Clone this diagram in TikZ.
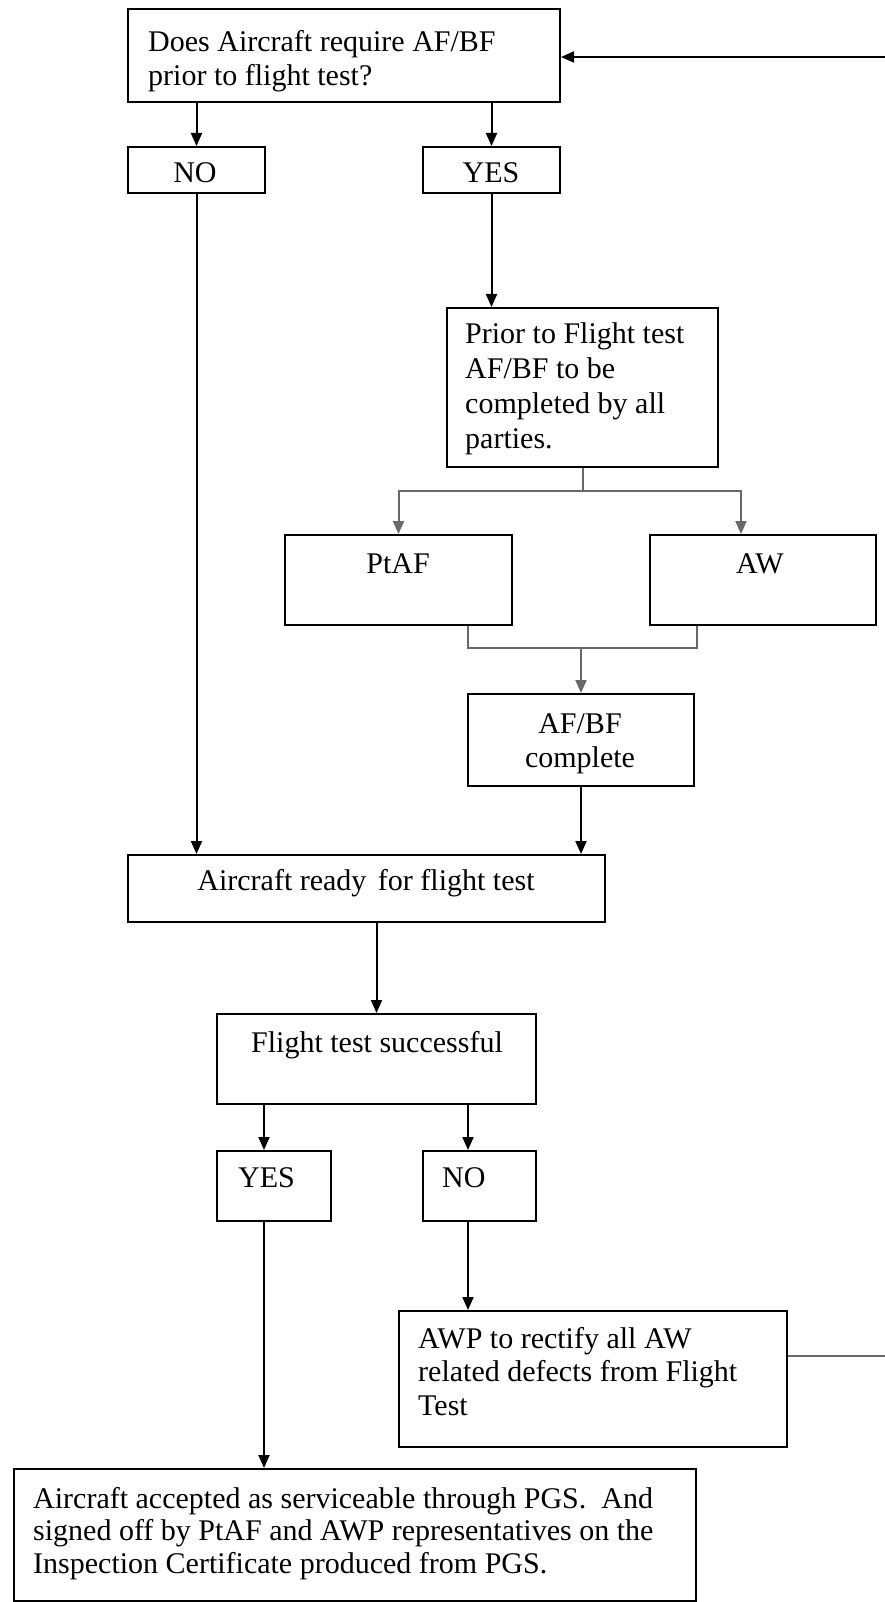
\documentclass[tikz,border=0pt]{standalone}
\usepackage{fontspec}
\setmainfont{Liberation Serif}
\usetikzlibrary{arrows.meta}
\newcommand\tp{\rule{0pt}{24pt}}
\begin{document}
\begin{tikzpicture}[x=1pt,y=-1pt,
  box/.style={draw, line width=2pt, inner sep=0, anchor=north west},
  txt/.style={inner sep=0, font=\fontsize{30}{34}\selectfont},
  arr/.style={line width=2pt, -{Triangle[length=13pt,width=11pt]}},
  gln/.style={line width=2pt, draw={rgb,255:red,105;green,105;blue,105}}]
\useasboundingbox (0,0) rectangle (885,1602);
\clip (0,0) rectangle (885,1602);
\fill[white] (0,0) rectangle (885,1602);

% boxes
\node[box, minimum width=432pt, minimum height=93pt]  (q)      at (127,8)    {};
\node[box, minimum width=137pt, minimum height=46pt]  (no1)    at (127,146)  {};
\node[box, minimum width=137pt, minimum height=46pt]  (yes1)   at (422,146)  {};
\node[box, minimum width=271pt, minimum height=159pt] (prior)  at (446,307)  {};
\node[box, minimum width=227pt, minimum height=90pt]  (ptaf)   at (284,534)  {};
\node[box, minimum width=226pt, minimum height=90pt]  (aw)     at (649,534)  {};
\node[box, minimum width=226pt, minimum height=92pt]  (afbf)   at (467,693)  {};
\node[box, minimum width=477pt, minimum height=67pt]  (ready)  at (127,854)  {};
\node[box, minimum width=319pt, minimum height=90pt]  (flight) at (216,1013) {};
\node[box, minimum width=114pt, minimum height=70pt]  (yes2)   at (216,1150) {};
\node[box, minimum width=113pt, minimum height=70pt]  (no2)    at (422,1150) {};
\node[box, minimum width=388pt, minimum height=136pt] (awp)    at (398,1310) {};
\node[box, minimum width=682pt, minimum height=132pt] (final)  at (13,1468)  {};

% texts
\node[txt, anchor=north west, align=left] (tq) at (148,27)
  {\tp Does Aircraft require AF/BF\\prior to flight test?};
\node[txt, anchor=base] (tno1)  at (195,183) {NO};
\node[txt, anchor=base] (tyes1) at (491,183) {YES};
\node[txt, anchor=north west, align=left, font=\fontsize{30}{35}\selectfont] (tprior) at (465,319)
  {\tp Prior to Flight test\\AF/BF to be\\completed by all\\parties.};
\node[txt, anchor=base] (tptaf) at (398,573) {PtAF};
\node[txt, anchor=base] (taw)   at (760,573) {AW};
\node[txt, anchor=north, align=center] (tafbf) at (580,709) {\tp AF/BF\\complete};
\node[txt, anchor=base] (tready)  at (366,890)  {Aircraft ready\hspace{4pt} for flight test};
\node[txt, anchor=base] (tflight) at (377,1052) {Flight test successful};
\node[txt, anchor=base west] (tyes2) at (238,1187) {YES};
\node[txt, anchor=base west] (tno2)  at (442,1187) {NO};
\node[txt, anchor=north west, align=left, font=\fontsize{30}{33.5}\selectfont] (tawp) at (418,1324)
  {\tp AWP to rectify all AW\\related defects from Flight\\Test};
\node[txt, anchor=north west, align=left, font=\fontsize{30}{32.5}\selectfont] (tfinal) at (33,1484)
  {\tp Aircraft accepted as serviceable through PGS.\ \ And\\signed off by PtAF and AWP representatives on the\\Inspection Certificate produced from PGS.};

% connectors
\draw[arr] (q.south -| no1.north) -- (no1.north);
\draw[arr] (q.south -| yes1.north) -- (yes1.north);
\draw[arr] (no1.south) -- (no1.south |- ready.north);
\draw[arr] (yes1.south) -- (yes1.south |- prior.north);

% split towards the two parties
\coordinate (sp) at ([yshift=-23pt]prior.south);
\draw[gln] (prior.south) -- (sp);
\draw[arr, gln] (sp) -| (ptaf.north);
\draw[arr, gln] (sp) -| ([xshift=-22pt]aw.north);

% join of the two parties
\coordinate (mg) at ([yshift=45pt]afbf.north);
\draw[gln] ([xshift=69.5pt]ptaf.south) |- ([xshift=-66pt]aw.south |- mg) -- ([xshift=-66pt]aw.south);
\draw[arr, gln] (mg) -- (afbf.north);

\draw[arr] (afbf.south) -- (afbf.south |- ready.north);
\draw[arr] (flight.north |- ready.south) -- (flight.north);
\draw[arr] ([xshift=-10pt]yes2.north |- flight.south) -- ([xshift=-10pt]yes2.north);
\draw[arr] ([xshift=-11.5pt]no2.north |- flight.south) -- ([xshift=-11.5pt]no2.north);
\draw[arr] ([xshift=-11.5pt]no2.south) -- ([xshift=-11.5pt]no2.south |- awp.north);
\draw[arr] ([xshift=-10pt]yes2.south) -- ([xshift=-10pt]yes2.south |- final.north);

% return path from rectification back to the first question
\coordinate (fbl) at (905,1356);
\coordinate (fbt) at (905,57);
\draw[gln] (awp.east |- fbl) -- (fbl);
\draw[arr] (fbl) -- (fbt) -- (q.east |- fbt);
\end{tikzpicture}
\end{document}
